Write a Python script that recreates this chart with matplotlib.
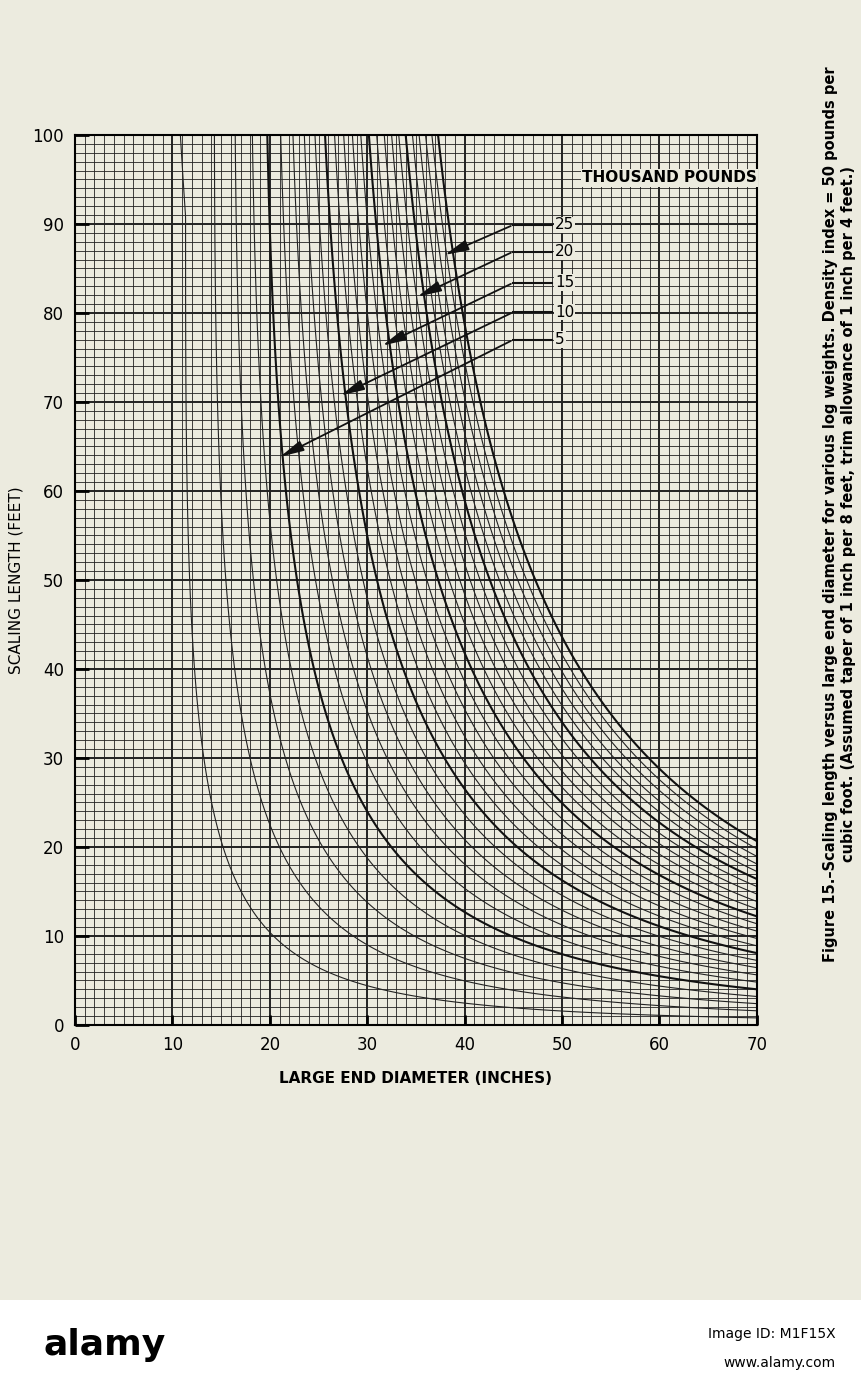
import numpy as np
import matplotlib
matplotlib.use("Agg")
import matplotlib.pyplot as plt

weights = list(range(1, 26))          # thousand pounds
bold_weights = [5, 10, 15, 20, 25]
arrow_labels = ["25", "20", "15", "10", "5"]
label_L = [89.9, 86.9, 83.4, 80.1, 77.0]
tip_D = [37.7, 34.9, 31.3, 27.0, 20.8]
tip_L = [86.4, 81.7, 76.2, 70.6, 63.7]
density = 50.0
taper = 8.0   # feet per inch
calib = 0.94

bg = "#ecebdf"
fig = plt.figure(figsize=(8.61, 13.9), dpi=100, facecolor=bg)
ax = fig.add_axes([0.0871, 0.2626, 0.792, 0.6403])
ax.set_facecolor(bg)

D = np.linspace(0.5, 70, 1400)
L = np.linspace(0.05, 100, 2000)
DD, LL = np.meshgrid(D, L)
dd = np.clip(DD - LL / taper, 0, None)
area = np.pi / 4 * (DD**2 + DD * dd + dd**2) / 3 / 144
W = area * LL * density * calib / 1000

thin = [w for w in weights if w not in bold_weights]
ax.contour(DD, LL, W, levels=thin, colors="#222222", linewidths=0.8)
ax.contour(DD, LL, W, levels=bold_weights, colors="#111111", linewidths=1.5)

ax.set_xlim(0, 70)
ax.set_ylim(0, 100)
for v in np.arange(0, 71, 1):
    ax.axvline(v, color="#222222", lw=1.4 if v % 10 == 0 else 0.6, zorder=0)
for v in np.arange(0, 101, 1):
    ax.axhline(v, color="#222222", lw=1.4 if v % 10 == 0 else 0.6, zorder=0)
for s in ax.spines.values():
    s.set_linewidth(1.5)
ax.set_xticks(range(0, 71, 10))
ax.set_yticks(range(0, 101, 10))
ax.tick_params(axis="both", labelsize=12, length=7, width=2, direction="in", pad=8)
ax.tick_params(axis="y", length=10)
ax.set_xlabel("LARGE END DIAMETER (INCHES)", fontsize=11, fontweight="bold", labelpad=12)
ax.set_ylabel("SCALING LENGTH (FEET)", fontsize=11, labelpad=6)

ax.text(70, 95.2, "THOUSAND POUNDS", ha="right", va="center", fontsize=11,
        fontweight="bold", bbox=dict(facecolor=bg, edgecolor="none", pad=1))
for lab, ly, tx, ty in zip(arrow_labels, label_L, tip_D, tip_L):
    ax.plot([45, 49.0], [ly, ly], color="#111111", lw=1.5)
    ax.annotate("", xy=(tx, ty), xytext=(45, ly),
                arrowprops=dict(arrowstyle="-|>,head_length=0.8,head_width=0.18",
                                color="#111111", lw=1.3, mutation_scale=18))
    ax.text(49.3, ly, lab, ha="left", va="center", fontsize=11,
            bbox=dict(facecolor=bg, edgecolor="none", pad=0.5))

fig.text(0.975, 0.63, "Figure 15.\u2013Scaling length versus large end diameter for various log weights. Density index = 50 pounds per\n"
         "cubic foot. (Assumed taper of 1 inch per 8 feet, trim allowance of 1 inch per 4 feet.)",
         rotation=90, ha="center", va="center", fontsize=10.5, fontweight="bold", multialignment="center")

band = fig.add_axes([0, 0, 1, 90 / 1390])
band.set_facecolor("white")
band.set_xticks([]); band.set_yticks([])
for s in band.spines.values():
    s.set_visible(False)
band.text(0.05, 0.5, "alamy", fontsize=26, fontweight="bold", va="center", transform=band.transAxes)
band.text(0.97, 0.62, "Image ID: M1F15X", fontsize=10, ha="right", va="center", transform=band.transAxes)
band.text(0.97, 0.3, "www.alamy.com", fontsize=10, ha="right", va="center", transform=band.transAxes)

fig.savefig("out.png", dpi=100, facecolor=bg)
